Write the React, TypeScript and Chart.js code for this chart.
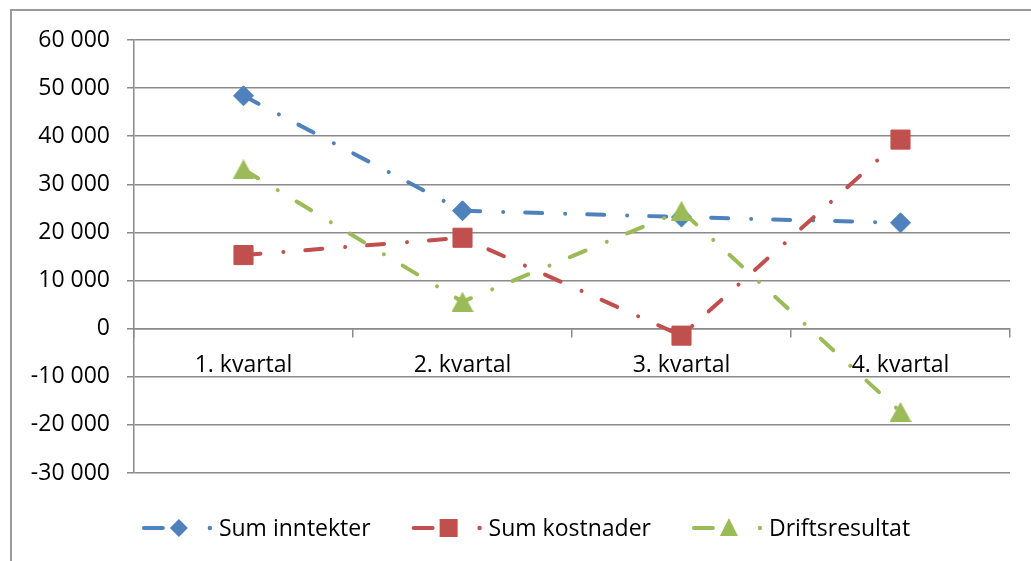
import React, { useEffect, useRef } from 'react';
import { Chart, registerables } from 'chart.js';

Chart.register(...registerables);

const categories = ['1. kvartal', '2. kvartal', '3. kvartal', '4. kvartal'];
const sumInntekter = [48400, 24500, 23200, 22000];
const sumKostnader = [15300, 18900, -1450, 39300];
const driftsresultat = [33100, 5600, 24500, -17300];
const seriesNames = ['Sum inntekter', 'Sum kostnader', 'Driftsresultat'];
const yMin = -30000;
const yMax = 60000;
const yStep = 10000;

const COLORS = ['#4F81BD', '#C0504D', '#9BBB59'];
const POINT_RADII = [10, 13.5, 11];
const LEGEND_MARKER = [9, 9, 10];
const GRID = '#8a8a8a';
const FONT = '"Open Sans", sans-serif';
const DASH = [17, 23, 0.01, 22];

function formatTick(v: number): string {
  const s = Math.abs(v).toString().replace(/\B(?=(\d{3})+(?!\d))/g, ' ');
  return (v < 0 ? '-' : '') + s;
}

function makeTriangle(w: number, h: number, color: string): HTMLCanvasElement {
  const c = document.createElement('canvas');
  c.width = w;
  c.height = h;
  const ctx = c.getContext('2d') as CanvasRenderingContext2D;
  ctx.fillStyle = color;
  ctx.beginPath();
  ctx.moveTo(w / 2, 0);
  ctx.lineTo(w, h);
  ctx.lineTo(0, h);
  ctx.closePath();
  ctx.fill();
  return c;
}

function drawMarker(ctx: CanvasRenderingContext2D, style: string, x: number, y: number, r: number, color: string) {
  ctx.fillStyle = color;
  ctx.beginPath();
  if (style === 'rectRot') {
    ctx.moveTo(x, y - r);
    ctx.lineTo(x + r, y);
    ctx.lineTo(x, y + r);
    ctx.lineTo(x - r, y);
  } else if (style === 'rect') {
    ctx.rect(x - r, y - r, 2 * r, 2 * r);
  } else {
    ctx.moveTo(x, y - r);
    ctx.lineTo(x + r * 0.9, y + r * 0.8);
    ctx.lineTo(x - r * 0.9, y + r * 0.8);
  }
  ctx.closePath();
  ctx.fill();
}

const framePlugin = {
  id: 'frame',
  beforeDraw(chart: any) {
    const ctx = chart.ctx as CanvasRenderingContext2D;
    ctx.save();
    ctx.strokeStyle = '#9a9a9a';
    ctx.lineWidth = 2;
    ctx.strokeRect(11, 10, 1060, 600);
    ctx.restore();
  },
};

const LEGEND_STYLES = ['rectRot', 'rect', 'triangle'];

const legendPlugin = {
  id: 'excelLegend',
  afterDraw(chart: any) {
    const ctx = chart.ctx as CanvasRenderingContext2D;
    ctx.save();
    ctx.font = `23px ${FONT}`;
    const y = 528;
    const gap = 41;
    const widths = seriesNames.map((n) => 77 + ctx.measureText(n).width);
    const total = widths.reduce((a, b) => a + b, 0) + gap * (widths.length - 1);
    let x = 526 - total / 2;
    seriesNames.forEach((name, i) => {
      const c = COLORS[i];
      ctx.strokeStyle = c;
      ctx.fillStyle = c;
      ctx.lineWidth = 4;
      ctx.lineCap = 'round';
      ctx.beginPath();
      ctx.moveTo(x + 2, y);
      ctx.lineTo(x + 21, y);
      ctx.stroke();
      drawMarker(ctx, LEGEND_STYLES[i], x + 37, y, LEGEND_MARKER[i], c);
      ctx.fillStyle = c;
      ctx.beginPath();
      ctx.arc(x + 68, y, 2.2, 0, Math.PI * 2);
      ctx.fill();
      ctx.fillStyle = '#000';
      ctx.textBaseline = 'middle';
      ctx.textAlign = 'left';
      ctx.fillText(name, x + 77, y + 1);
      x += widths[i] + gap;
    });
    ctx.restore();
  },
};

export default function App() {
  const ref = useRef<HTMLCanvasElement | null>(null);

  useEffect(() => {
    if (!ref.current) return;
    const series = [sumInntekter, sumKostnader, driftsresultat];
    const pointStyles: any[] = ['rectRot', 'rect', makeTriangle(22, 20, COLORS[2])];
    const chart = new Chart(ref.current, {
      type: 'line',
      data: {
        labels: categories,
        datasets: series.map((data, i) => ({
          label: seriesNames[i],
          data,
          borderColor: COLORS[i],
          backgroundColor: COLORS[i],
          borderWidth: 4,
          borderDash: DASH,
          borderCapStyle: 'round',
          borderJoinStyle: 'round',
          tension: 0,
          fill: false,
          pointStyle: pointStyles[i],
          pointRadius: POINT_RADII[i],
          pointBackgroundColor: COLORS[i],
          pointBorderColor: COLORS[i],
          pointBorderWidth: 1,
          order: 3 - i,
          clip: false,
        })) as any,
      },
      options: {
        animation: false,
        responsive: false,
        layout: { padding: { left: 0, top: 40, right: 21, bottom: 88 } },
        plugins: { legend: { display: false }, tooltip: { enabled: false } },
        scales: {
          x: {
            type: 'category',
            offset: true,
            position: { y: 0 } as any,
            afterFit: (s: any) => {
              s.height = 0;
            },
            grid: {
              display: true,
              drawOnChartArea: false,
              drawTicks: true,
              tickLength: 8,
              color: GRID,
              lineWidth: 1.5,
              offset: true,
            },
            border: { display: true, color: GRID, width: 1.5 },
            ticks: {
              font: { family: FONT, size: 23 },
              color: '#000',
              padding: 15,
              maxRotation: 0,
              autoSkip: false,
            },
          },
          y: {
            min: yMin,
            max: yMax,
            afterFit: (s: any) => {
              s.width = 134;
            },
            ticks: {
              stepSize: yStep,
              callback: (v: any) => formatTick(Number(v)),
              font: { family: FONT, size: 23 },
              color: '#000',
              padding: 17,
            },
            grid: { color: GRID, lineWidth: 1.5, tickLength: 7, drawTicks: true },
            border: { color: GRID, width: 1.5 },
          },
        },
      },
      plugins: [framePlugin, legendPlugin],
    } as any);
    return () => chart.destroy();
  }, []);

  return (
    <div style={{ position: 'fixed', left: 0, top: 0, width: 1031, height: 561, background: '#fff' }}>
      <canvas ref={ref} width={1031} height={561} />
    </div>
  );
}
